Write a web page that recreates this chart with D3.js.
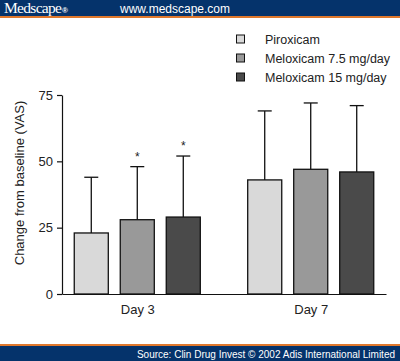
<!DOCTYPE html>
<html>
<head>
<meta charset="utf-8">
<script src="https://cdn.jsdelivr.net/npm/d3@7"></script>
<style>
  body { margin: 0; background: #fff; }
  svg { display: block; font-family: "Liberation Sans", Arial, sans-serif; }
</style>
</head>
<body>
<svg id="chart" width="400" height="361"></svg>
<script>
// Data
const days = ['Day 3', 'Day 7'];
const series = ['Piroxicam', 'Meloxicam 7.5 mg/day', 'Meloxicam 15 mg/day'];
const means = [[23, 28, 29], [43, 47, 46]];
const upper = [[44, 48, 52], [69, 72, 71]];
const significant = [[false, true, true], [false, false, false]];
const yTicks = [0, 25, 50, 75];

const colors = ['#d9d9d9', '#999999', '#4a4a4a'];
const navy = '#05336b';
const orange = '#e0782c';

const svg = d3.select('#chart');

// header band
svg.append('rect').attr('x', 0).attr('y', 0).attr('width', 400).attr('height', 16).attr('fill', navy);
svg.append('rect').attr('x', 0).attr('y', 16).attr('width', 400).attr('height', 2).attr('fill', orange);
svg.append('text').attr('x', 4).attr('y', 13)
  .attr('fill', '#fff').style('font-family', '"Liberation Serif", serif').style('font-size', '15.5px')
  .style('letter-spacing', '-0.7px')
  .text('Medscape');
svg.append('text').attr('x', 62).attr('y', 12.5).attr('fill', '#fff')
  .style('font-size', '8px').style('font-weight', 'bold').text('®');
svg.append('text').attr('x', 120).attr('y', 12.5).attr('fill', '#fff')
  .style('font-size', '12px').text('www.medscape.com');

// footer band
svg.append('rect').attr('x', 0).attr('y', 344).attr('width', 400).attr('height', 2).attr('fill', orange);
svg.append('rect').attr('x', 0).attr('y', 346).attr('width', 400).attr('height', 15).attr('fill', navy);
svg.append('text').attr('x', 395).attr('y', 357.5).attr('fill', '#fff')
  .attr('text-anchor', 'end').style('font-size', '10px')
  .text('Source: Clin Drug Invest © 2002 Adis International Limited');

// scales
const x0 = d3.scalePoint().domain(days).range([62, 386]).padding(0.434);
const x1 = d3.scaleBand().domain(series).range([-69, 69]).paddingInner(0.26).paddingOuter(0.13);
const y = d3.scaleLinear().domain([0, 75]).range([294, 95]);

// y axis
const yAxis = svg.append('g').attr('transform', 'translate(62,0)')
  .call(d3.axisLeft(y).tickValues(yTicks).tickSize(5).tickPadding(4).tickSizeOuter(0));
yAxis.select('.domain').attr('stroke', '#111').attr('stroke-width', 1.2);
yAxis.selectAll('.tick line').attr('stroke', '#111').attr('stroke-width', 1.2);
yAxis.selectAll('.tick text').style('font-size', '13px').attr('fill', '#222')
  .style('font-family', '"Liberation Sans", Arial, sans-serif');

svg.append('text')
  .attr('transform', 'translate(24,183) rotate(-90)')
  .attr('text-anchor', 'middle').style('font-size', '13px').attr('fill', '#222')
  .text('Change from baseline (VAS)');

// x axis line
const xAxis = svg.append('g').attr('transform', `translate(0,${y(0)})`)
  .call(d3.axisBottom(x0).tickSize(0).tickPadding(11));
xAxis.select('.domain').attr('stroke', '#111').attr('stroke-width', 1.2);
xAxis.selectAll('.tick text').style('font-size', '13px').attr('fill', '#222')
  .style('font-family', '"Liberation Sans", Arial, sans-serif');

// bars and error bars
const groups = svg.append('g').selectAll('g').data(days).join('g')
  .attr('transform', d => `translate(${x0(d)},0)`);

groups.each(function (day, di) {
  const g = d3.select(this);
  series.forEach((s, si) => {
    const bx = x1(s);
    const cx = bx + x1.bandwidth() / 2;
    g.append('line').attr('x1', cx).attr('x2', cx)
      .attr('y1', y(means[di][si])).attr('y2', y(upper[di][si]))
      .attr('stroke', '#111').attr('stroke-width', 1.3);
    g.append('line').attr('x1', cx - 7).attr('x2', cx + 7)
      .attr('y1', y(upper[di][si])).attr('y2', y(upper[di][si]))
      .attr('stroke', '#111').attr('stroke-width', 1.3);
    g.append('rect').attr('x', bx).attr('width', x1.bandwidth())
      .attr('y', y(means[di][si])).attr('height', y(0) - y(means[di][si]))
      .attr('fill', colors[si]).attr('stroke', '#111').attr('stroke-width', 1.3);
    if (significant[di][si]) {
      g.append('text').attr('x', cx).attr('y', y(upper[di][si]) - 6)
        .attr('text-anchor', 'middle').style('font-size', '12px').attr('fill', '#222')
        .text('*');
    }
  });
});

// legend
const legend = svg.append('g').selectAll('g').data(series).join('g')
  .attr('transform', (d, i) => `translate(236,${39 + i * 19})`);
legend.append('rect').attr('x', 0.5).attr('y', -4).attr('width', 8).attr('height', 8)
  .attr('fill', (d, i) => colors[i]).attr('stroke', '#111').attr('stroke-width', 1);
legend.append('text').attr('x', 29).attr('y', 4.5)
  .style('font-size', '12.5px').attr('fill', '#222').text(d => d);
</script>
</body>
</html>
